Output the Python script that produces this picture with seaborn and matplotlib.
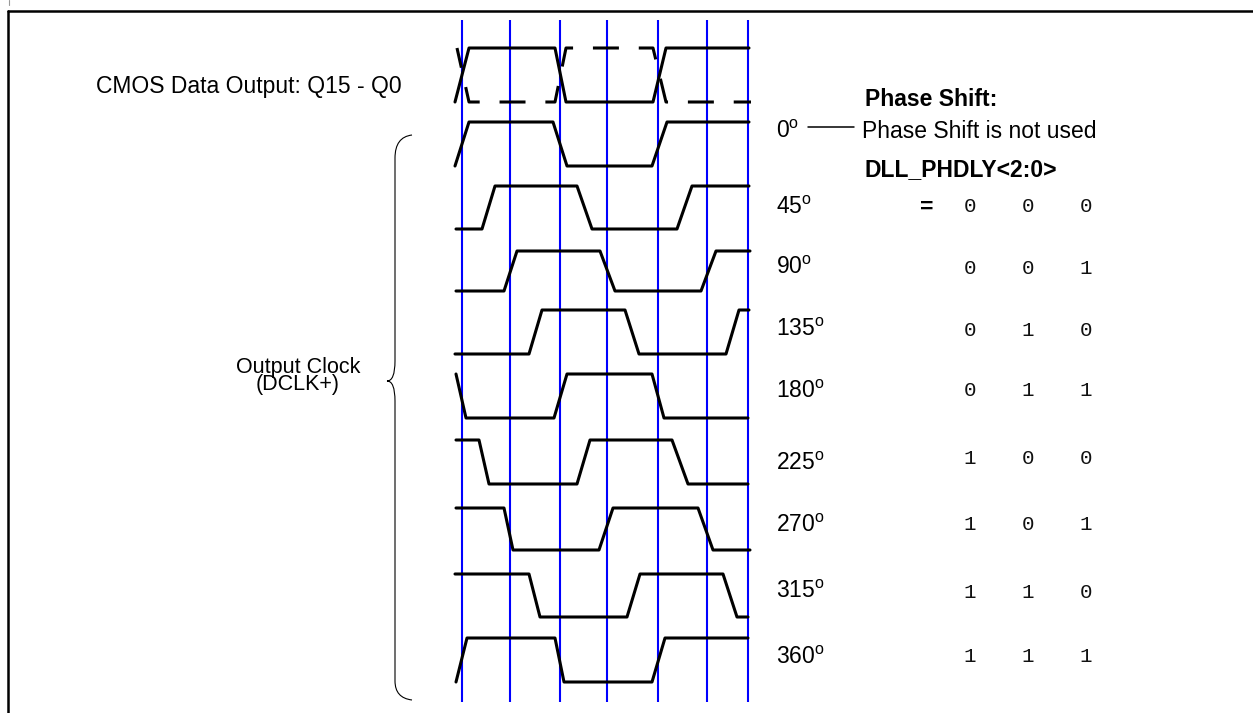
import matplotlib
matplotlib.use("Agg")
import matplotlib.pyplot as plt
from matplotlib.path import Path
from matplotlib.patches import PathPatch
import seaborn as sns
import pandas as pd

# Canvas is measured in reference pixels (x right, y down)

# Blue timing reference lines (x positions)
grid_x = [462, 510, 560, 607, 658, 707, 748]

# Phase rows: label, high level, low level, edge x points, level at each point
phase_labels = ["0", "45", "90", "135", "180", "225", "270", "315", "360"]
label_y = [131, 207, 268, 330, 392, 463, 525, 592, 657]
high_y = [122, 186, 251, 310, 374, 440, 508, 574, 638]
low_y = [166, 229, 291, 354, 418, 484, 550, 617, 682]
edge_x = [
    [455, 469, 553, 567, 652, 667, 749],
    [456, 482, 495, 577, 592, 677, 692, 749],
    [456, 504, 517, 600, 615, 701, 716, 750],
    [455, 529, 542, 625, 639, 726, 739, 749],
    [456, 466, 554, 567, 652, 664, 748],
    [456, 479, 489, 577, 590, 672, 688, 748],
    [456, 504, 513, 599, 613, 698, 713, 750],
    [455, 529, 540, 627, 640, 723, 737, 748],
    [456, 467, 555, 564, 652, 665, 748],
]
edge_level = ["LHHLLHH", "LLHHLLHH", "LLHHLLHH", "LLHHLLHH", "HLLHHLL",
              "HHLLHHLL", "HHLLHHLL", "HHLLHHLL", "LHHLLHH"]

# CMOS data output (solid and dashed complement)
data_high, data_low = 48, 102
data_x = [455, 469, 555, 566, 653, 666, 749]
data_level = "LHHLLHH"
data_bar_x = [457, 469, 555, 566, 653, 666, 751]
data_bar_level = "HLLHHLL"

# DLL_PHDLY<2:0> bit codes for 45..360 deg
phdly_codes = ["000", "001", "010", "011", "100", "101", "110", "111"]
code_y = [207, 268, 330, 390, 459, 525, 593, 657]
bit_x = [970, 1028, 1086]

rows = []
for i, (xs, lv) in enumerate(zip(edge_x, edge_level)):
    for x, c in zip(xs, lv):
        rows.append({"row": f"p{i}", "x": x, "y": high_y[i] if c == "H" else low_y[i]})
for x, c in zip(data_x, data_level):
    rows.append({"row": "data", "x": x, "y": data_high if c == "H" else data_low})
df = pd.DataFrame(rows)
df_bar = pd.DataFrame({"row": "data_bar", "x": data_bar_x,
                       "y": [data_high if c == "H" else data_low for c in data_bar_level]})

sns.set_theme(style="white")
plt.rcParams["font.family"] = ["Liberation Sans", "DejaVu Sans"]
plt.rcParams["text.color"] = "black"
plt.rcParams["mathtext.fontset"] = "custom"
plt.rcParams["mathtext.rm"] = "Liberation Sans"
plt.rcParams["mathtext.it"] = "Liberation Sans:italic"
plt.rcParams["mathtext.bf"] = "Liberation Sans:bold"

fig = plt.figure(figsize=(12.53, 7.13), dpi=100)
ax = fig.add_axes([0, 0, 1, 1])

ax.vlines(grid_x, 20, 702, color="#0000ff", lw=1.5)

sns.lineplot(data=df, x="x", y="y", units="row", estimator=None, sort=False,
             color="black", lw=2.2, legend=False, ax=ax)
sns.lineplot(data=df_bar, x="x", y="y", units="row", estimator=None, sort=False,
             color="black", lw=2.2, legend=False, ax=ax,
             linestyle=(1.9, (8.5, 6.5)))

# frame
ax.plot([8, 1253], [11, 11], color="black", lw=1.8)
ax.plot([8, 8], [11, 713], color="black", lw=1.8)
ax.plot([9, 9], [0, 5], color="#999999", lw=0.8)

# brace
verts = [(412, 135), (395, 137), (395, 158), (395, 361), (395, 381), (387, 381),
         (395, 381), (395, 401), (395, 681), (395, 698), (412, 700)]
codes = [Path.MOVETO, Path.CURVE3, Path.CURVE3, Path.LINETO, Path.CURVE3, Path.CURVE3,
         Path.CURVE3, Path.CURVE3, Path.LINETO, Path.CURVE3, Path.CURVE3]
ax.add_patch(PathPatch(Path(verts, codes), fill=False, lw=0.8, color="black"))

fs = 16.5
ax.text(249, 87, "CMOS Data Output: Q15 - Q0", fontsize=fs, ha="center", va="center")
ax.text(298, 376, "Output Clock\n(DCLK+)", fontsize=15.5, ha="center", va="center",
        linespacing=0.78)

for lab, y in zip(phase_labels, label_y):
    ax.text(776, y, lab + r"$^{\mathrm{o}}$", fontsize=fs, ha="left", va="center")

ax.text(865, 99, "Phase Shift:", fontsize=fs, fontweight="bold", ha="left", va="center")
ax.plot([808, 854], [127, 127], color="black", lw=1.1)
ax.text(862, 131, "Phase Shift is not used", fontsize=fs, ha="left", va="center")
ax.text(865, 170, "DLL_PHDLY<2:0>", fontsize=fs, fontweight="bold", ha="left", va="center")
ax.text(927, 207, "=", fontsize=fs, fontweight="bold", ha="center", va="center")

for code, y in zip(phdly_codes, code_y):
    for bx, b in zip(bit_x, code):
        ax.text(bx, y, b, fontsize=15, family="Liberation Mono", color="#111111",
                ha="center", va="center")

ax.set_xlim(0, 1253)
ax.set_ylim(713, 0)
ax.axis("off")

fig.savefig("out.png", dpi=100)
